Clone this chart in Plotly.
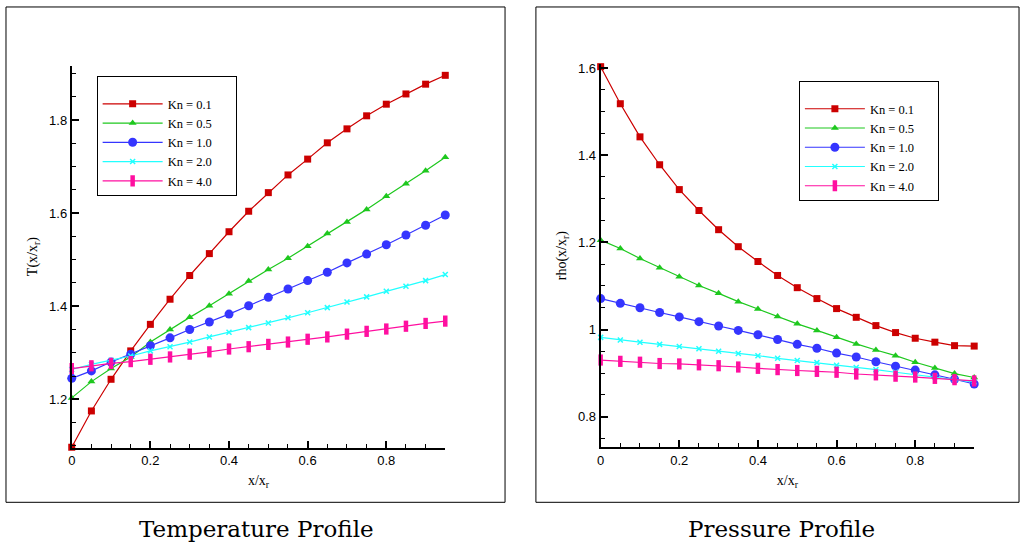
import plotly.graph_objects as go

# x/x_r stations (shared by both profiles)
x_ratio = [0.00, 0.05, 0.10, 0.15, 0.20, 0.25, 0.30, 0.35, 0.40, 0.45,
           0.50, 0.55, 0.60, 0.65, 0.70, 0.75, 0.80, 0.85, 0.90, 0.95]

kn_labels = ["Kn = 0.1", "Kn = 0.5", "Kn = 1.0", "Kn = 2.0", "Kn = 4.0"]

# Temperature profile T(x/x_r)
temp_kn01 = [1.097, 1.175, 1.243, 1.304, 1.361, 1.415, 1.466, 1.513, 1.560, 1.604,
             1.644, 1.682, 1.716, 1.751, 1.781, 1.809, 1.834, 1.856, 1.877, 1.896]
temp_kn05 = [1.203, 1.238, 1.266, 1.291, 1.323, 1.350, 1.376, 1.401, 1.427, 1.454,
             1.479, 1.503, 1.529, 1.556, 1.581, 1.608, 1.636, 1.663, 1.691, 1.720]
temp_kn10 = [1.245, 1.261, 1.280, 1.297, 1.315, 1.332, 1.350, 1.366, 1.383, 1.401,
             1.419, 1.437, 1.455, 1.473, 1.493, 1.512, 1.532, 1.553, 1.574, 1.596]
temp_kn20 = [1.264, 1.275, 1.284, 1.293, 1.304, 1.313, 1.323, 1.334, 1.344, 1.354,
             1.364, 1.375, 1.386, 1.397, 1.409, 1.420, 1.432, 1.443, 1.455, 1.468]
temp_kn40 = [1.266, 1.272, 1.277, 1.281, 1.286, 1.291, 1.297, 1.302, 1.308, 1.313,
             1.318, 1.323, 1.329, 1.334, 1.340, 1.346, 1.351, 1.357, 1.363, 1.368]

# Pressure profile rho(x/x_r)
rho_kn01 = [1.603, 1.518, 1.442, 1.378, 1.321, 1.273, 1.229, 1.190, 1.156, 1.124,
            1.096, 1.071, 1.048, 1.028, 1.009, 0.993, 0.980, 0.971, 0.963, 0.962]
rho_kn05 = [1.205, 1.186, 1.163, 1.142, 1.121, 1.101, 1.083, 1.064, 1.047, 1.030,
            1.013, 0.998, 0.982, 0.967, 0.953, 0.940, 0.925, 0.912, 0.899, 0.890]
rho_kn10 = [1.071, 1.060, 1.050, 1.039, 1.029, 1.018, 1.008, 0.998, 0.988, 0.977,
            0.966, 0.957, 0.946, 0.937, 0.926, 0.916, 0.907, 0.896, 0.886, 0.875]
rho_kn20 = [0.982, 0.976, 0.971, 0.966, 0.961, 0.956, 0.950, 0.945, 0.940, 0.934,
            0.929, 0.924, 0.918, 0.913, 0.908, 0.902, 0.896, 0.891, 0.885, 0.880]
rho_kn40 = [0.930, 0.927, 0.925, 0.922, 0.921, 0.919, 0.917, 0.914, 0.911, 0.908,
            0.906, 0.904, 0.902, 0.898, 0.896, 0.893, 0.891, 0.888, 0.885, 0.882]

temp_series = [temp_kn01, temp_kn05, temp_kn10, temp_kn20, temp_kn40]
rho_series = [rho_kn01, rho_kn05, rho_kn10, rho_kn20, rho_kn40]

# Tecplot-like styling per Kn
colors = ["#CC0000", "#1EC81E", "#3535FF", "#22FFFF", "#FF0FA0"]
markers = [
    dict(symbol="square", size=7),
    dict(symbol="triangle-up", size=7),
    dict(symbol="circle", size=9),
    dict(symbol="x-thin-open", size=5, line=dict(width=1.5)),
    dict(symbol="line-ns-open", size=8, line=dict(width=4.5)),
]

W, H = 1024, 544
SERIF = "Liberation Serif"
SANS = "Liberation Sans"

fig = go.Figure()

for i in range(5):
    for series, xa, ya, leg in ((temp_series, "x", "y", "legend"),
                                (rho_series, "x2", "y2", "legend2")):
        mk = dict(markers[i])
        mk["color"] = colors[i]
        if "line" in mk:
            mk["line"] = dict(mk["line"], color=colors[i])
        fig.add_trace(go.Scatter(
            x=x_ratio, y=series[i], mode="lines+markers",
            name=kn_labels[i] + "\u00a0" * 6,
            line=dict(color=colors[i], width=1.2),
            marker=mk, xaxis=xa, yaxis=ya, legend=leg, cliponaxis=False,
        ))


def axis(dtick, rng, domain, title, anchor):
    return dict(
        domain=domain, range=rng, anchor=anchor, tick0=0, dtick=dtick,
        showline=True, linewidth=2, linecolor="black", mirror=False,
        ticks="inside", ticklen=7, tickwidth=2, tickcolor="black",
        minor=dict(ticks="inside", ticklen=4, tickwidth=1, dtick=0.05, tickcolor="black"),
        showgrid=False, zeroline=False,
        tickfont=dict(family=SANS, size=13, color="black"),
        title=dict(text=title, font=dict(family=SERIF, size=14, color="black"), standoff=8),
    )


def px_x(p):
    return p / W


def px_y(p):
    return (H - p) / H


legend_style = dict(
    bgcolor="white", bordercolor="black", borderwidth=1,
    font=dict(family=SERIF, size=12.5, color="black"),
    itemwidth=60, tracegroupgap=0, yanchor="top", xanchor="left",
    title=dict(text=" ", font=dict(size=9)),
)

fig.update_layout(
    width=W, height=H, paper_bgcolor="white", plot_bgcolor="white",
    margin=dict(l=0, r=0, t=0, b=0), showlegend=True,
    xaxis=axis(0.2, [0, 0.95], [px_x(68), px_x(443)], "x/x<sub>r</sub>", "y"),
    yaxis=axis(0.2, [1.096, 1.917], [px_y(447), px_y(62)], "T(x/x<sub>r</sub>)", "x"),
    xaxis2=axis(0.2, [0, 0.95], [px_x(599), px_x(974)], "x/x<sub>r</sub>", "y2"),
    yaxis2=axis(0.2, [0.73, 1.609], [px_y(446.5), px_y(60.5)], "rho(x/x<sub>r</sub>)", "x2"),
    legend=dict(legend_style, x=px_x(93), y=px_y(73)),
    legend2=dict(legend_style, x=px_x(798), y=px_y(78)),
    shapes=[
        dict(type="rect", xref="paper", yref="paper", x0=px_x(2), x1=px_x(503),
             y0=px_y(502), y1=px_y(3), line=dict(color="black", width=1)),
        dict(type="rect", xref="paper", yref="paper", x0=px_x(534), x1=px_x(1019),
             y0=px_y(502), y1=px_y(3), line=dict(color="black", width=1)),
    ],
    annotations=[
        dict(text="Temperature Profile", x=px_x(253), y=px_y(529), xref="paper", yref="paper",
             xanchor="center", yanchor="middle",
             showarrow=False, font=dict(family="DejaVu Serif", size=23, color="black")),
        dict(text="Pressure Profile", x=px_x(781), y=px_y(529), xref="paper", yref="paper",
             xanchor="center", yanchor="middle",
             showarrow=False, font=dict(family="DejaVu Serif", size=23, color="black")),
    ],
)

# drop the default page margin so the figure sits at the window origin
fig.write_html("out.html", config={"displayModeBar": False},
               post_script="document.body.style.margin='0';document.body.style.overflow='hidden';")
